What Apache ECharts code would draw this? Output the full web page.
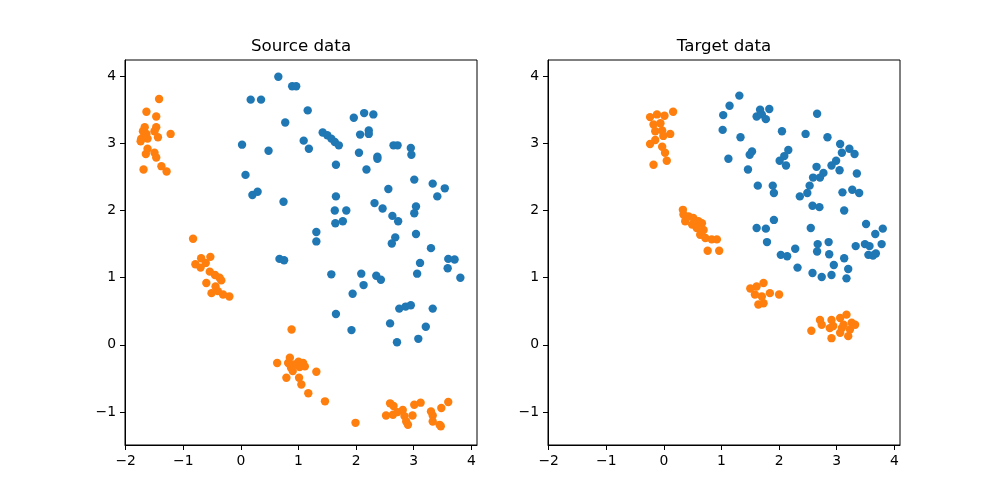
<!DOCTYPE html>
<html>
<head>
<meta charset="utf-8">
<script src="https://cdn.jsdelivr.net/npm/echarts@6/dist/echarts.min.js"></script>
<style>html,body{margin:0;padding:0;background:#fff}#c{width:1000px;height:500px}</style>
</head>
<body>
<div id="c"></div>
<script>
var titles = ['Source data', 'Target data'];
var xTicks = [-2, -1, 0, 1, 2, 3, 4];
var yTicks = [-1, 0, 1, 2, 3, 4];

var sourceBlue = [[0.65,3.99],[0.89,3.85],[0.96,3.85],[0.17,3.65],[0.35,3.65],[1.16,3.49],[0.77,3.31],[1.42,3.16],[1.50,3.12],[1.57,3.07],[1.63,3.02],[1.70,2.97],[1.09,3.04],[1.18,2.92],[0.02,2.98],[0.48,2.89],[1.65,2.68],[0.08,2.53],[0.20,2.23],[0.29,2.28],[0.74,2.13],[1.65,2.21],[1.63,2.00],[1.83,2.00],[1.64,1.81],[1.77,1.84],[1.31,1.68],[1.31,1.54],[0.67,1.28],[0.75,1.26],[1.57,1.05],[1.65,0.46],
[1.96,3.38],[2.14,3.45],[2.30,3.43],[2.07,3.13],[2.22,3.19],[2.22,3.14],[2.05,2.86],[2.37,2.80],[2.37,2.77],[2.18,2.61],[2.65,2.97],[2.72,2.97],[2.95,2.93],[2.96,2.83],[2.56,2.32],[3.01,2.46],[3.33,2.40],[3.54,2.33],[3.41,2.21],[2.32,2.11],[2.46,2.03],[2.63,1.92],[2.73,1.84],[3.04,2.06],[3.01,1.96],[2.68,1.60],[2.62,1.51],[3.04,1.65],[3.30,1.44],[3.60,1.28],[3.71,1.27],[3.59,1.14],[3.81,1.00],[3.11,1.22],[3.06,1.06],[2.09,1.06],[2.35,1.03],[2.43,0.97],[2.13,0.89],[1.94,0.76],[2.75,0.54],[2.86,0.57],[2.95,0.59],[3.33,0.54],[2.59,0.32],[3.21,0.27],[1.92,0.22],[2.71,0.04],[3.08,0.09]];

var sourceOrange = [[-1.42,3.66],[-1.64,3.47],[-1.47,3.40],[-1.67,3.24],[-1.47,3.24],[-1.22,3.14],[-1.70,3.18],[-1.64,3.14],[-1.73,3.07],[-1.62,3.07],[-1.50,3.18],[-1.44,3.09],[-1.74,3.03],[-1.62,2.92],[-1.65,2.84],[-1.50,2.86],[-1.47,2.79],[-1.69,2.61],[-1.38,2.66],[-1.29,2.58],
[-0.83,1.58],[-0.79,1.20],[-0.69,1.29],[-0.53,1.31],[-0.61,1.22],[-0.70,1.15],[-0.54,1.09],[-0.45,1.04],[-0.37,1.00],[-0.34,0.96],[-0.60,0.92],[-0.44,0.87],[-0.51,0.77],[-0.40,0.80],[-0.31,0.75],[-0.20,0.72],
[0.88,0.23],[0.63,-0.27],[0.85,-0.19],[0.82,-0.27],[0.87,-0.34],[1.00,-0.25],[1.08,-0.27],[1.11,-0.32],[1.02,-0.33],[0.93,-0.29],[0.79,-0.49],[0.90,-0.39],[1.01,-0.49],[1.05,-0.59],[1.31,-0.40],[1.17,-0.72],[1.46,-0.84],[1.99,-1.16],
[2.59,-0.87],[2.65,-0.91],[2.52,-1.05],[2.64,-1.04],[2.72,-1.00],[2.81,-0.97],[2.84,-1.06],[2.87,-1.14],[2.90,-1.19],[2.98,-1.05],[3.01,-0.89],[3.12,-0.86],[3.30,-0.99],[3.33,-1.05],[3.33,-1.14],[3.45,-1.19],[3.48,-0.94],[3.60,-0.85],[3.47,-1.21]];

var targetBlue = [[1.31,3.71],[1.14,3.56],[1.03,3.42],[1.67,3.50],[1.83,3.51],[1.61,3.40],[1.70,3.43],[1.77,3.36],[1.02,3.20],[1.33,3.09],[2.05,3.18],[1.53,2.88],[1.49,2.83],[1.12,2.77],[2.16,2.90],[2.09,2.81],[2.01,2.74],[2.12,2.67],[1.46,2.61],[1.63,2.37],[1.89,2.37],[1.91,2.26],[1.91,1.86],[1.61,1.74],[1.77,1.73],[1.79,1.53],[2.03,1.34],[2.14,1.32],[2.28,1.43],[2.32,1.15],
[2.66,3.44],[2.46,3.14],[2.84,3.09],[3.06,2.99],[3.09,2.86],[3.22,2.92],[3.31,2.84],[2.99,2.74],[2.91,2.67],[3.05,2.60],[2.65,2.65],[2.77,2.56],[2.71,2.49],[2.59,2.49],[3.35,2.55],[2.53,2.37],[2.49,2.26],[2.36,2.21],[3.10,2.27],[3.27,2.31],[3.39,2.26],[2.58,2.07],[2.70,2.05],[3.13,2.00],[2.55,1.74],[3.51,1.80],[3.67,1.65],[3.80,1.73],[2.67,1.50],[2.66,1.39],[2.86,1.53],[2.87,1.35],[3.33,1.47],[3.49,1.50],[3.57,1.47],[3.78,1.50],[3.55,1.34],[3.68,1.36],[3.63,1.33],[3.13,1.29],[2.95,1.19],[3.20,1.13],[2.58,1.07],[2.74,1.01],[2.91,1.04],[3.17,0.99]];

var targetOrange = [[-0.24,3.39],[-0.12,3.43],[0.01,3.41],[0.16,3.47],[-0.18,3.28],[-0.06,3.30],[-0.15,3.18],[-0.03,3.19],[0.11,3.14],[-0.01,3.11],[-0.24,2.99],[-0.15,3.05],[-0.03,2.95],[0.02,2.86],[0.05,2.74],[-0.18,2.68],
[0.33,2.01],[0.34,1.94],[0.43,1.91],[0.51,1.89],[0.60,1.84],[0.66,1.81],[0.37,1.84],[0.49,1.79],[0.57,1.74],[0.69,1.71],[0.63,1.64],[0.72,1.59],[0.83,1.57],[0.92,1.57],[0.76,1.40],[0.96,1.40],
[1.50,0.84],[1.61,0.87],[1.73,0.92],[1.58,0.75],[1.70,0.72],[1.84,0.77],[2.00,0.75],[1.64,0.60],[1.73,0.62],
[2.56,0.21],[2.71,0.37],[2.74,0.30],[2.91,0.37],[2.88,0.25],[2.94,0.28],[2.91,0.10],[3.06,0.40],[3.17,0.45],[3.12,0.30],[3.26,0.33],[3.32,0.30],[3.06,0.18],[3.20,0.13],[3.23,0.23],[3.09,0.25]];

var BLUE = '#1f77b4', ORANGE = '#ff7f0e';
var FONT = 'DejaVu Sans';
var XMIN = -2.012, XMAX = 4.099, YMIN = -1.49, YMAX = 4.24;
var GL = [125, 548], GW = 352, GT = 60, GH = 385;

function fmt(v) { return String(v).replace('-', '\u2212'); }

function xAx(i) {
  return {
    type: 'value', gridIndex: i, min: XMIN, max: XMAX,
    axisLine: { show: true, onZero: false, lineStyle: { color: '#000', width: 1 } },
    axisTick: { show: true, length: 5, lineStyle: { color: '#000', width: 1 }, customValues: xTicks },
    axisLabel: { show: true, margin: 9, color: '#000', fontFamily: FONT, fontSize: 13.9, customValues: xTicks, formatter: fmt },
    splitLine: { show: false }
  };
}
function yAx(i) {
  return {
    type: 'value', gridIndex: i, min: YMIN, max: YMAX,
    axisLine: { show: true, onZero: false, lineStyle: { color: '#000', width: 1 } },
    axisTick: { show: true, length: 5, lineStyle: { color: '#000', width: 1 }, customValues: yTicks },
    axisLabel: { show: true, margin: 9, color: '#000', fontFamily: FONT, fontSize: 13.9, customValues: yTicks, formatter: fmt, padding: [2, 0, 0, 0] },
    splitLine: { show: false }
  };
}
function sc(data, color, i) {
  return {
    type: 'scatter', xAxisIndex: i, yAxisIndex: i, data: data,
    symbol: 'circle', symbolSize: 8.4, silent: true,
    itemStyle: { color: color, opacity: 1, borderWidth: 0 }
  };
}

var chart = echarts.init(document.getElementById('c'), null, { renderer: 'canvas' });
chart.setOption({
  animation: false,
  backgroundColor: '#fff',
  grid: [0, 1].map(function (i) {
    return { left: GL[i], top: GT, width: GW, height: GH, show: true, borderColor: '#000', borderWidth: 1, backgroundColor: 'transparent', containLabel: false };
  }),
  xAxis: [xAx(0), xAx(1)],
  yAxis: [yAx(0), yAx(1)],
  graphic: [0, 1].map(function (i) {
    return { type: 'text', x: GL[i] + GW / 2, y: 46.5, style: { text: titles[i], fontFamily: FONT, fontSize: 16.7, fill: '#000', textAlign: 'center', textVerticalAlign: 'middle' } };
  }),
  series: [sc(sourceBlue, BLUE, 0), sc(sourceOrange, ORANGE, 0), sc(targetBlue, BLUE, 1), sc(targetOrange, ORANGE, 1)]
});
</script>
</body>
</html>
